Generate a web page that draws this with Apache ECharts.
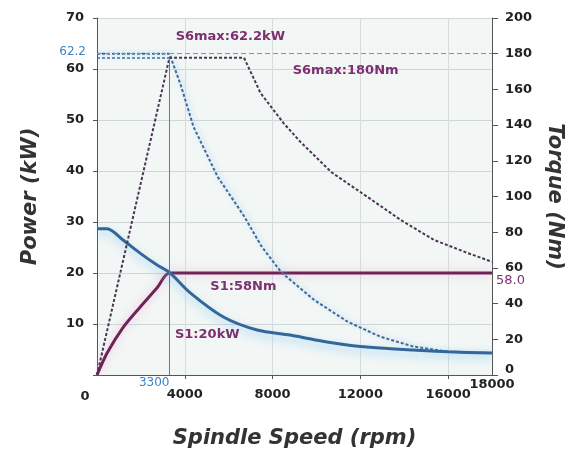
<!DOCTYPE html>
<html><head><meta charset="utf-8">
<script src="https://cdn.jsdelivr.net/npm/echarts@6/dist/echarts.min.js"></script>
<style>html,body{margin:0;padding:0;background:#fff}#c{width:576px;height:454px}</style>
</head><body><div id="c"></div>
<script>
// S6 power (kW, left axis)
const s6PowerRpm = [0, 3300, 6700, 7450, 8500, 9270, 10700, 12330, 13840, 15350, 16900, 18000];
const s6PowerKw  = [0, 62.2, 62.2, 55.3, 49.4, 45.7, 39.7, 34.9, 30.4, 26.5, 23.9, 22.2];
// S6 torque (Nm, right axis)
const s6TorqueRpm = [0, 3300, 3800, 4400, 5500, 6700, 7500, 8400, 9900, 11400, 12900, 14400, 16000, 18000];
const s6TorqueNm  = [180, 180, 163, 139, 111, 89, 72, 57.5, 42, 30, 21.5, 16, 13, 12.3];
// S1 power (kW, left axis)
const s1PowerRpm = [0, 460, 1200, 1960, 2740, 3300, 18000];
const s1PowerKw  = [0, 4.3, 9.4, 13.3, 17.1, 20, 20];
// S1 torque (Nm, right axis)
const s1TorqueRpm = [0, 460, 1200, 1960, 2740, 3300, 4250, 5760, 7300, 8800, 9900, 11400, 12900, 14400, 16000, 18000];
const s1TorqueNm  = [82, 82, 75.5, 68.3, 61.6, 57.5, 46, 32.5, 25.2, 22.4, 19.8, 16.8, 15.1, 14, 13, 12.3];
// tick labels
const xLabels = [0, 4000, 8000, 12000, 16000];
const baseSpeed = 3300;
const maxSpeed = 18000;
const s6MaxKw = 62.2;
const s6MaxNm = 180;
const s1Nm = 58.0;
// annotations
const notes = [
  {text: 'S6max:62.2kW', at: [6075, 66.3]},
  {text: 'S6max:180Nm', at: [11330, 59.6]},
  {text: 'S1:58Nm', at: [6670, 17.3]},
  {text: 'S1:20kW', at: [5025, 8.0]}
];

const zip = (a, b) => a.map((v, i) => [v, b[i]]);
const FONT = 'DejaVu Sans';
const PURPLE = '#6e2457';
const BLUE = '#33679a';
const TXTP = '#7d2f6f';
const TXTB = '#3a84c6';
const hiddenBits = {axisLine: {show: false, onZero: false}, axisTick: {show: false}, splitLine: {show: false}, minorTick: {show: false}, minorSplitLine: {show: false}, splitArea: {show: false}};

const chart = echarts.init(document.getElementById('c'), null, {renderer: 'canvas'});
chart.setOption({
  animation: false,
  backgroundColor: '#ffffff',
  grid: {left: 97, right: 84, top: 18, bottom: 79, show: true, backgroundColor: '#f2f6f5', borderWidth: 0, outerBoundsMode: 'none'},
  xAxis: [
    {
      type: 'value', min: 0, max: maxSpeed, interval: 2000,
      name: 'Spindle Speed (rpm)', nameLocation: 'middle', nameGap: 53,
      nameTextStyle: {fontFamily: FONT, fontSize: 21, fontWeight: 'bold', fontStyle: 'italic', color: '#333'},
      axisLine: {show: true, onZero: false, lineStyle: {color: '#555', width: 1}},
      axisTick: {show: true, length: 4, lineStyle: {color: '#555'}, customValues: [4000, 8000, 12000, 16000]},
      axisLabel: {
        customValues: xLabels, margin: 13, color: '#222', fontFamily: FONT, fontSize: 13, fontWeight: 'bold',
        formatter: v => v === 0 ? '{z|0}' : String(v),
        rich: {z: {padding: [2, 24, 0, 0], color: '#222', fontFamily: FONT, fontSize: 13, fontWeight: 'bold'}}
      },
      splitLine: {show: true, lineStyle: {color: '#d6dcdc', width: 1}}
    },
    Object.assign({
      type: 'value', min: 0, max: maxSpeed, interval: 2000, position: 'bottom', offset: 0,
      axisLabel: {customValues: [baseSpeed], margin: 2, align: 'right', color: TXTB, fontFamily: FONT, fontSize: 12, formatter: v => String(v)}
    }, hiddenBits),
    Object.assign({
      type: 'value', min: 0, max: maxSpeed, interval: 2000, position: 'bottom', offset: 0,
      axisLabel: {customValues: [maxSpeed], margin: 3, align: 'center', color: '#222', fontFamily: FONT, fontSize: 13, fontWeight: 'bold', formatter: v => String(v)}
    }, hiddenBits)
  ],
  yAxis: [
    {
      type: 'value', min: 0, max: 70, interval: 10, position: 'left', offset: 0,
      name: 'Power (kW)', nameLocation: 'middle', nameGap: 56,
      nameTextStyle: {fontFamily: FONT, fontSize: 21, fontWeight: 'bold', fontStyle: 'italic', color: '#333'},
      axisLine: {show: true, onZero: false, lineStyle: {color: '#555'}},
      axisTick: {show: true, length: 4, lineStyle: {color: '#555'}},
      axisLabel: {margin: 13, color: '#222', fontFamily: FONT, fontSize: 13, fontWeight: 'bold',
        formatter: v => v === 0 ? '' : String(v)},
      splitLine: {show: true, lineStyle: {color: '#cfd6d6', width: 1}}
    },
    {
      type: 'value', min: 0, max: 200, interval: 20, position: 'right', offset: 0,
      name: 'Torque (Nm)', nameLocation: 'middle', nameGap: 52, nameRotate: -90,
      nameTextStyle: {fontFamily: FONT, fontSize: 21, fontWeight: 'bold', fontStyle: 'italic', color: '#333'},
      axisLine: {show: true, onZero: false, lineStyle: {color: '#555'}},
      axisTick: {show: true, length: 6, lineStyle: {color: '#555'}},
      axisLabel: {margin: 13, color: '#222', fontFamily: FONT, fontSize: 13, fontWeight: 'bold', showMinLabel: true,
        formatter: v => v === 0 ? '{z|0}' : String(v),
        rich: {z: {padding: [0, 0, 10, 0], color: '#222', fontFamily: FONT, fontSize: 13, fontWeight: 'bold'}}},
      splitLine: {show: false}
    },
    Object.assign({
      type: 'value', min: 0, max: 70, interval: 10, position: 'left', offset: 0,
      axisLabel: {customValues: [s6MaxKw], margin: 11, verticalAlign: 'bottom', color: TXTB, fontFamily: FONT, fontSize: 12,
        formatter: v => v.toFixed(1)}
    }, hiddenBits),
    Object.assign({
      type: 'value', min: 0, max: 200, interval: 20, position: 'right', offset: 0,
      axisLabel: {customValues: [s1Nm], margin: 4, verticalAlign: 'top', padding: [3, 0, 0, 0], color: TXTP, fontFamily: FONT, fontSize: 13,
        formatter: v => v.toFixed(1)}
    }, hiddenBits)
  ],
  series: [
    {
      name: 'S6 torque', type: 'line', xAxisIndex: 0, yAxisIndex: 1, data: zip(s6TorqueRpm, s6TorqueNm),
      showSymbol: false, smooth: false,
      lineStyle: {color: '#3d6a9e', width: 2, type: [3, 2], shadowColor: 'rgba(120,190,240,0.55)', shadowBlur: 5, shadowOffsetX: 2},
      markLine: {
        silent: true, symbol: 'none', label: {show: false},
        lineStyle: {color: '#9a8f86', type: [5, 3], width: 1.2},
        data: [{yAxis: s6MaxNm}]
      },
      z: 3
    },
    {
      name: 'S6 power', type: 'line', xAxisIndex: 0, yAxisIndex: 0, data: zip(s6PowerRpm, s6PowerKw),
      showSymbol: false, smooth: false,
      lineStyle: {color: '#4b3552', width: 2, type: [3, 2]},
      markLine: {
        silent: true, symbol: 'none', label: {show: false},
        data: [
          [{coord: [0, s6MaxKw], lineStyle: {color: '#3a6fa8', type: [3, 2], width: 1.5}}, {coord: [baseSpeed, s6MaxKw]}],
          [{coord: [baseSpeed, 0], lineStyle: {color: '#777', type: 'solid', width: 1}}, {coord: [baseSpeed, s6MaxKw]}]
        ]
      },
      markPoint: {
        silent: true, symbol: 'circle', symbolSize: 0,
        label: {show: true, position: 'inside', color: TXTP, fontFamily: FONT, fontSize: 13, fontWeight: 'bold',
          formatter: p => p.name},
        data: notes.map(n => ({name: n.text, coord: n.at}))
      },
      z: 4
    },
    {
      name: 'S1 power', type: 'line', xAxisIndex: 0, yAxisIndex: 0, data: zip(s1PowerRpm, s1PowerKw),
      showSymbol: false, smooth: 0.25,
      lineStyle: {color: PURPLE, width: 3, shadowColor: 'rgba(240,150,200,0.6)', shadowBlur: 8},
      z: 2
    },
    {
      name: 'S1 torque', type: 'line', xAxisIndex: 0, yAxisIndex: 1, data: zip(s1TorqueRpm, s1TorqueNm),
      showSymbol: false, smooth: 0.3,
      lineStyle: {color: BLUE, width: 3, shadowColor: 'rgba(120,200,245,0.7)', shadowBlur: 8, shadowOffsetY: 4},
      z: 3
    }
  ]
});
</script>
</body></html>
